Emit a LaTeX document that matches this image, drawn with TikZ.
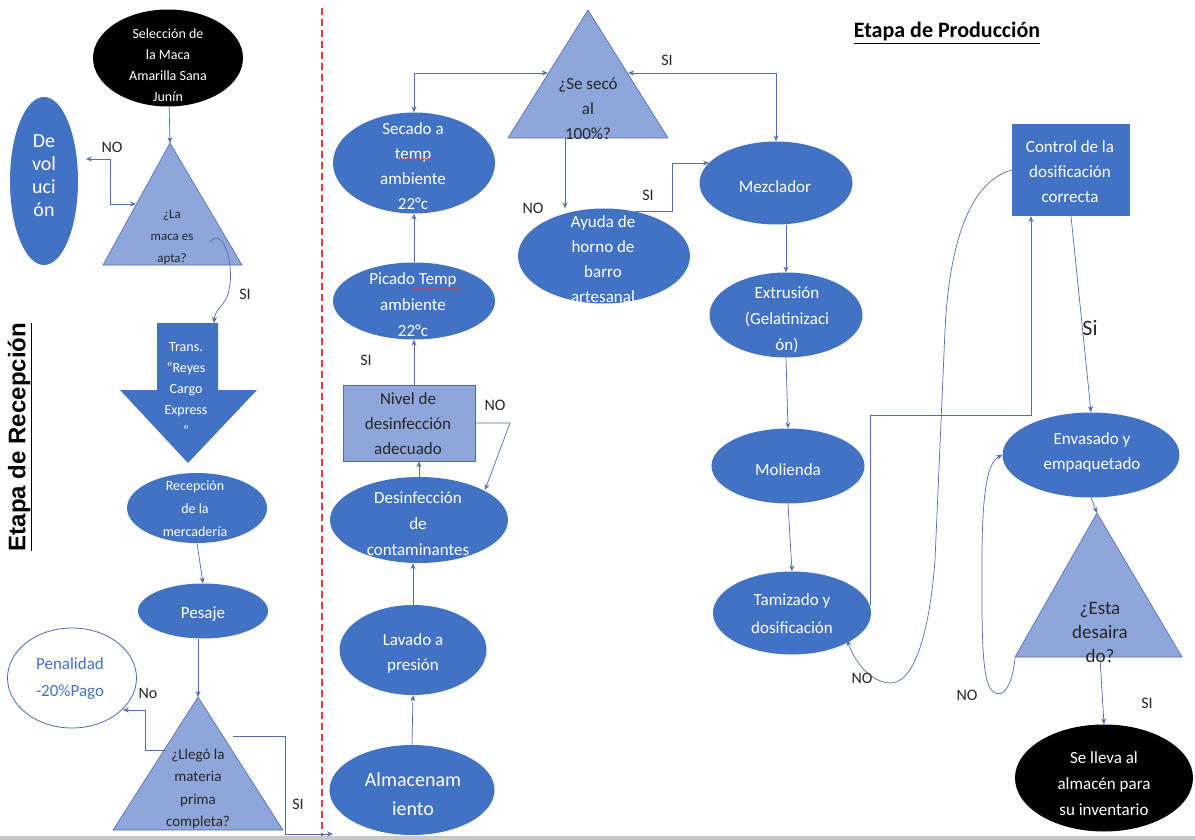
\documentclass[tikz,border=0pt]{standalone}
\usepackage{fontspec}
\setmainfont{Carlito}
\newfontfamily\lsans{Liberation Sans}
\usetikzlibrary{shapes.geometric,arrows.meta,decorations.pathmorphing}
\definecolor{bl}{RGB}{66,114,196}
\definecolor{tri}{RGB}{143,166,218}
\definecolor{trib}{RGB}{78,106,176}
\definecolor{ln}{RGB}{84,110,170}
\definecolor{pentxt}{RGB}{68,114,196}
\definecolor{rd}{RGB}{225,60,70}
\tikzset{
  ell/.style={ellipse, fill=bl, inner sep=0pt},
  blk/.style={ellipse, fill=black, inner sep=0pt},
  etxt/.style={align=center, text=white, inner sep=0pt, font=\fontsize{17}{25}\selectfont},
  trishape/.style={fill=tri, draw=trib, line width=0.6pt},
  ttxt/.style={align=center, text=black!85, inner sep=0pt},
  conn/.style={draw=ln, line width=0.7pt, -{Stealth[length=6pt,width=5pt]}},
  conntwo/.style={draw=ln, line width=0.7pt, {Stealth[length=6pt,width=5pt]}-{Stealth[length=6pt,width=5pt]}},
  lbl/.style={font=\fontsize{16}{18}\selectfont, text=black!85, inner sep=0pt},
  wavy/.style={draw=rd, line width=0.5pt, decorate, decoration={snake, amplitude=0.8pt, segment length=3pt}},
}
\begin{document}
\begin{tikzpicture}[x=1pt,y=-1pt]
\useasboundingbox (0,0) rectangle (1195,840);
\fill[white] (0,0) rectangle (1195,840);
\fill[gray!45] (0,836) rectangle (1195,840);

% divider
\draw[rd, line width=1.1pt, dash pattern=on 7pt off 4pt] (322,8) -- (322,836);

% titles
\node[font=\lsans\bfseries\fontsize{24}{28}\selectfont, rotate=90, inner sep=0pt] (etrec) at (20,437) {\underline{Etapa de Recepción}};
\node[font=\bfseries\fontsize{22}{26}\selectfont, inner sep=0pt] (etprod) at (947,33) {\underline{Etapa de Producción}};

% ---------------- Recepcion ----------------
\node[blk, minimum width=150, minimum height=97] (sel) at (168,58) {};
\node[etxt, font=\fontsize{14}{21}\selectfont] (selt) at (168,65) {Selección de\\la Maca\\Amarilla Sana\\Junín};

\node[ell, minimum width=68, minimum height=168] (dev) at (44,181) {};
\node[etxt, font=\fontsize{20}{23}\selectfont] (devt) at (44,176) {De\\vol\\uci\\ón};

\path[trishape] (170,143) coordinate (t1a) -- (242,265) coordinate (t1r) -- (103,265) coordinate (t1l) -- cycle;
\node[ttxt, font=\fontsize{13}{22}\selectfont] (t1t) at (172,237) {¿La\\maca es\\apta?};
\coordinate (t1no) at (136,204);
\coordinate (devno) at (86,159);
\coordinate (t1si) at (210,242);

\path[fill=bl] (157,323) coordinate (trtopl) -- (218,323) coordinate (trtopr) -- (218,390) -- (257,390) -- (188,463) coordinate (trtip) -- (120,390) -- (157,390) -- cycle;
\coordinate (trin) at (214,323);
\node[etxt, font=\fontsize{14}{21}\selectfont] (trt) at (186,389) {Trans.\\“Reyes\\Cargo\\Express\\”};

\node[ell, minimum width=140, minimum height=70] (rec) at (197,508) {};
\node[etxt, font=\fontsize{14}{23}\selectfont] (rect) at (195,509) {Recepción\\de la\\mercadería};

\node[ell, minimum width=130, minimum height=55] (pes) at (203,611) {};
\node[etxt] (pest) at (203,614) {Pesaje};

\path[trishape] (198,697) coordinate (t2a) -- (283,830) coordinate (t2r) -- (113,830) coordinate (t2l) -- cycle;
\node[ttxt, font=\fontsize{15}{22.5}\selectfont] (t2t) at (198,789) {¿Llegó la\\materia\\prima\\completa?};
\coordinate (t2no) at (166,750);
\coordinate (penno) at (123,710);
\coordinate (t2si) at (233,736);
\coordinate (almin) at (333,834);

\node[ellipse, draw=trib, line width=0.8pt, fill=white, minimum width=129, minimum height=100, inner sep=0pt] (pen) at (72,678) {};
\node[align=center, text=pentxt, inner sep=0pt, font=\fontsize{17}{27}\selectfont] (pent) at (70,679) {Penalidad\\-20\%Pago};

% connectors recepcion
\draw[conn] (sel) -- (t1a);
\draw[conntwo] (t1no) -- (110,204) -- (110,159) -- (devno);
\draw[conn] (t1si) .. controls (222,226) and (235,262) .. (229,290) .. controls (226,306) and (215,308) .. (trin);
\draw[conn] (rec.south) -- (pes.north);
\draw[conn] (t2a |- pes.south) -- (t2a);
\draw[conn] (t2no) -- (145,750) -- (145,710) -- (penno);
\draw[conn] (t2si) -- (285,736) -- (285,834) -- (almin);

\node[lbl] (lno1) at (112,147) {NO};
\node[lbl] (lsi1) at (245,294) {SI};
\node[lbl] (lno2) at (148,693) {No};
\node[lbl] (lsi2) at (298,804) {SI};

% ---------------- Produccion: left column ----------------
\node[ell, minimum width=162, minimum height=101] (sec) at (414,163) {};
\node[etxt] (sect) at (413,166) {Secado a\\temp\\ambiente\\22°c};
\draw[wavy] (397,159) -- (434,159);

\node[ell, minimum width=162, minimum height=77] (pic) at (414,301) {};
\node[etxt, font=\fontsize{17}{26}\selectfont] (pict) at (413,305) {Picado Temp\\ambiente\\22°c};
\draw[wavy] (412,289) -- (461,289);

\node[rectangle, fill=tri, draw=trib, line width=0.8pt, minimum width=132, minimum height=76, inner sep=0pt] (niv) at (409,423) {};
\node[ttxt, font=\fontsize{17}{25}\selectfont] (nivt) at (408,424) {Nivel de\\desinfección\\adecuado};

\node[ell, minimum width=178, minimum height=86] (des) at (419,520) {};
\node[etxt, font=\fontsize{17}{26}\selectfont] (dest) at (418,524) {Desinfección\\de\\contaminantes};

\node[ell, minimum width=147, minimum height=90] (lav) at (413,650) {};
\node[etxt] (lavt) at (413,653) {Lavado a\\presión};

\node[ell, minimum width=165, minimum height=90] (alm) at (412,790) {};
\node[etxt, font=\fontsize{20}{29}\selectfont] (almt) at (413,794) {Almacenam\\iento};

% triangle se seco
\path[trishape] (588,10) coordinate (t3a) -- (668,138) coordinate (t3r) -- (508,138) coordinate (t3l) -- cycle;
\node[ttxt, font=\fontsize{17}{25}\selectfont] (t3t) at (588,109) {¿Se secó\\al\\100\%?};
\coordinate (t3wl) at (548,73);
\coordinate (t3wr) at (628,73);
\coordinate (t3b) at (565,138);

\node[ell, minimum width=172, minimum height=95] (ayu) at (604,256) {};
\node[etxt, font=\fontsize{17}{25}\selectfont] (ayut) at (603,259) {Ayuda de\\horno de\\barro\\artesanal};
\coordinate (ayusi) at (635,211);

% ---------------- Produccion: middle column ----------------
\node[ell, minimum width=153, minimum height=83] (mez) at (776,183) {};
\node[etxt] (mezt) at (775,187) {Mezclador};
\coordinate (mezsi) at (709,163);

\node[ell, minimum width=153, minimum height=85] (ext) at (786,315) {};
\node[etxt, font=\fontsize{17}{26}\selectfont] (extt) at (787,320) {Extrusión\\(Gelatinizaci\\ón)};

\node[ell, minimum width=153, minimum height=75] (mol) at (788,466) {};
\node[etxt] (molt) at (788,470) {Molienda};

\node[ell, minimum width=158, minimum height=83] (tam) at (792,613) {};
\node[etxt, font=\fontsize{17}{28}\selectfont] (tamt) at (792,614) {Tamizado y\\dosificación};
\coordinate (tamr) at (870,605);
\coordinate (tamno) at (847,640);

% ---------------- Produccion: right column ----------------
\node[rectangle, fill=bl, minimum width=118, minimum height=92, inner sep=0pt] (ctl) at (1071,170) {};
\node[etxt, font=\fontsize{17}{25}\selectfont] (ctlt) at (1070,172) {Control de la\\dosificación\\correcta};

\node[ell, minimum width=177, minimum height=85] (env) at (1091,455) {};
\node[etxt, font=\fontsize{17}{25}\selectfont] (envt) at (1092,452) {Envasado y\\empaquetado};

\path[trishape] (1097,513) coordinate (t4a) -- (1182,657) coordinate (t4r) -- (1015,657) coordinate (t4l) -- cycle;
\node[ttxt, font=\fontsize{19}{24}\selectfont] (t4t) at (1100,632) {¿Esta\\desaira\\do?};
\coordinate (t4no) at (1015,658);
\coordinate (t4b) at (1100,658);

\node[blk, minimum width=178, minimum height=107] (fin) at (1104,778) {};
\node[etxt, font=\fontsize{17}{26}\selectfont] (fint) at (1104,784) {Se lleva al\\almacén para\\su inventario};

% connectors produccion
\draw[conn] (alm.north) -- (lav.south);
\draw[conn] (lav.north) -- (lav.north |- des.south);
\draw[conn] (des.north) -- (des.north |- niv.south);
\draw[conn] (niv.east) -- (510,423) -- (485,490);
\draw[conn] (niv.north -| pic.south) -- (pic.south);
\draw[conn] (pic.north) -- (sec.south);
\draw[conntwo] (t3wl) -| (sec.north);
\draw[conntwo] (t3wr) -| (mez.north);
\draw[conn] (t3b) -- (ayu.north -| t3b);
\draw[conn] (ayusi) -- (672,211) -- (672,163) -- (mezsi);
\draw[conn] (ext.north |- mez.south) -- (ext.north);
\draw[conn] (ext.south) -- (mol.north);
\draw[conn] (mol.south) -- (tam.north);
\coordinate (cx) at (1031,415);
\draw[conn] (tamr) -- (870,415) -- (cx) -- (cx |- ctl.south);
\draw[conn] (ctl.west) .. controls (975,180) and (950,230) .. (945,330) -- (935,560) .. controls (929,640) and (912,684) .. (890,683) .. controls (870,682) and (855,662) .. (tamno);
\draw[conn] (ctl.south) -- (env.north);
\draw[conn] (env.south) -- (t4a);
\draw[conn] (t4no) .. controls (1012,690) and (1000,702) .. (990,688) .. controls (981,672) and (982,620) .. (982,560) .. controls (982,490) and (988,462) .. (env.west);
\draw[conn] (t4b) -- (fin.north);

\node[lbl] (lsi3) at (667,60) {SI};
\node[lbl] (lno3) at (533,208) {NO};
\node[lbl] (lsi4) at (648,195) {SI};
\node[lbl] (lsi5) at (366,360) {SI};
\node[lbl] (lno4) at (495,405) {NO};
\node[lbl, font=\fontsize{22}{24}\selectfont] (lsi6) at (1090,328) {Si};
\node[lbl] (lno5) at (862,678) {NO};
\node[lbl] (lno6) at (967,695) {NO};
\node[lbl] (lsi7) at (1147,703) {SI};
\end{tikzpicture}
\end{document}
